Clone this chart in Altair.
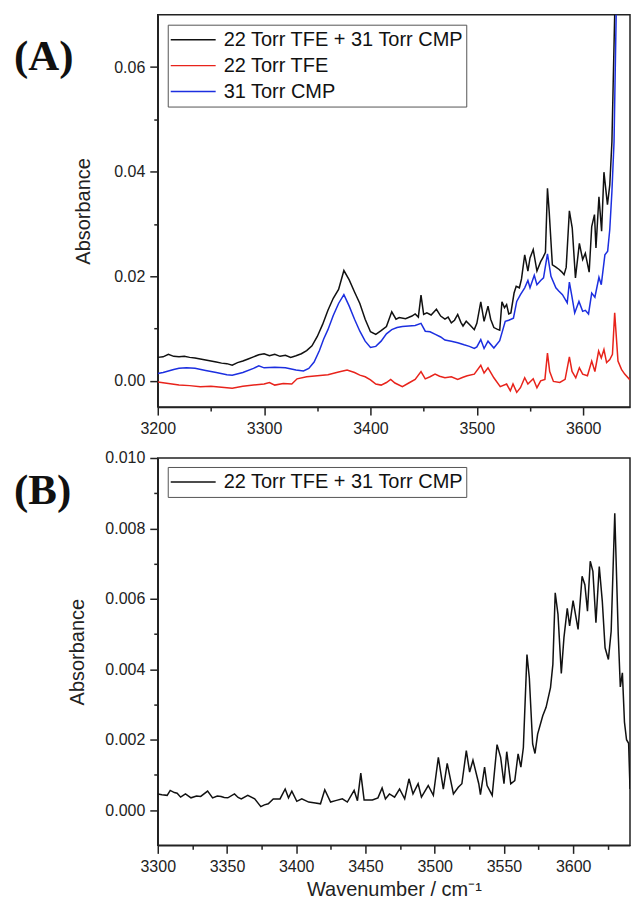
import altair as alt
import pandas as pd

# ---------------- Panel (A) data ----------------
SERIES_A = ["22 Torr TFE + 31 Torr CMP", "22 Torr TFE", "31 Torr CMP"]
COLORS_A = ["#111111", "#e8231b", "#1c2fe0"]

mix_wn = [3200, 3205, 3210, 3215, 3220, 3225, 3230, 3235, 3240, 3245, 3250, 3255, 3260, 3265,
          3270, 3275, 3280, 3285, 3290, 3295, 3300, 3305, 3310, 3315, 3320, 3325, 3330, 3335,
          3340, 3345, 3350, 3355, 3360, 3365, 3370, 3375, 3380, 3385, 3390, 3395, 3400, 3405,
          3410, 3415, 3420, 3424, 3427, 3433, 3439, 3442, 3445, 3447.5, 3450, 3453, 3457, 3462,
          3466, 3470, 3473, 3476, 3479, 3482, 3485, 3487, 3490, 3494, 3497.6, 3500, 3503.7,
          3506.8, 3510.5, 3513, 3516, 3519, 3521.5, 3523.6, 3526, 3528, 3530, 3532, 3535, 3537,
          3540, 3542, 3545, 3548, 3550, 3553, 3556.5, 3560, 3562, 3564.5, 3566.4, 3568, 3571,
          3574, 3577.4, 3580, 3582, 3584, 3587, 3589.7, 3592.7, 3596.4, 3599.5, 3602, 3605.6,
          3608, 3610.6, 3612, 3614.8, 3617.3, 3619.5, 3622.8, 3625, 3627, 3629.6, 3632]
mix_abs = [0.0045, 0.0046, 0.0051, 0.0047, 0.0046, 0.0047, 0.0045, 0.0044, 0.0042, 0.0040,
           0.0038, 0.0036, 0.0034, 0.0033, 0.0030, 0.0035, 0.0038, 0.0042, 0.0046, 0.0050,
           0.0052, 0.0048, 0.0051, 0.0047, 0.0049, 0.0045, 0.0048, 0.0052, 0.0058, 0.0067,
           0.0085, 0.0108, 0.0135, 0.0158, 0.0175, 0.0211, 0.0193, 0.0170, 0.0148, 0.0118,
           0.0094, 0.0089, 0.0096, 0.0104, 0.0132, 0.0118, 0.0121, 0.0119, 0.0124, 0.0128,
           0.0122, 0.0164, 0.0127, 0.0130, 0.0126, 0.0137, 0.0124, 0.0118, 0.0122, 0.0111,
           0.0116, 0.0127, 0.0112, 0.0105, 0.0114, 0.0106, 0.0098, 0.0110, 0.0151, 0.0114,
           0.0143, 0.0118, 0.0102, 0.0099, 0.0097, 0.0151, 0.0140, 0.0146, 0.0128, 0.0130,
           0.0168, 0.0181, 0.0178, 0.0195, 0.0241, 0.0210, 0.0235, 0.0251, 0.0210, 0.0228,
           0.0235, 0.0246, 0.0368, 0.0324, 0.0222, 0.0218, 0.0213, 0.0208, 0.0203, 0.0217,
           0.0325, 0.0292, 0.0197, 0.0263, 0.0232, 0.0244, 0.0208, 0.0295, 0.0318, 0.0254,
           0.0352, 0.0286, 0.0399, 0.0337, 0.0375, 0.0457, 0.0700, 0.0900]

tfe_wn = [3200, 3210, 3220, 3230, 3240, 3250, 3260, 3270, 3280, 3290, 3300, 3305, 3310, 3318,
          3326, 3331, 3340, 3350, 3360, 3370, 3378, 3385, 3390, 3395, 3400, 3405, 3410, 3415,
          3419, 3423, 3430, 3436, 3442, 3447.5, 3451.5, 3456, 3460.7, 3465, 3470, 3476, 3482,
          3487, 3491, 3497.6, 3503.7, 3506.8, 3510.5, 3516, 3522, 3528, 3531.5, 3534, 3537.5,
          3541, 3545, 3548, 3553, 3556.5, 3560, 3564, 3566.4, 3568.5, 3572, 3578, 3583, 3587,
          3589.5, 3593, 3596.4, 3599.5, 3604, 3608, 3611, 3614.5, 3617, 3619.5, 3622, 3625,
          3627.5, 3629.6, 3632.7, 3636, 3639, 3644]
tfe_abs = [-0.0002, -0.0005, -0.0008, -0.0009, -0.0011, -0.0010, -0.0012, -0.0014, -0.0010,
           -0.0008, -0.0006, -0.0003, -0.0008, -0.0005, -0.0006, 0.0004, 0.0008, 0.0010, 0.0012,
           0.0017, 0.0021, 0.0016, 0.0011, 0.0008, 0.0002, -0.0006, -0.0008, -0.0003, 0.0003,
           -0.0004, -0.0011, -0.0004, 0.0003, 0.0018, 0.0004, 0.0008, 0.0013, 0.0009, 0.0006,
           0.0008, 0.0003, 0.0007, 0.0010, 0.0013, 0.0030, 0.0015, 0.0025, 0.0006, -0.0011,
           -0.0006, -0.0019, -0.0006, -0.0022, -0.0013, 0.0006, -0.0006, 0.0004, -0.0013, 0.0000,
           0.0003, 0.0053, 0.0018, -0.0001, -0.0003, 0.0003, 0.0046, 0.0018, 0.0006, 0.0025,
           0.0013, 0.0010, 0.0038, 0.0018, 0.0057, 0.0044, 0.0060, 0.0035, 0.0041, 0.0051,
           0.0130, 0.0038, 0.0022, 0.0013, 0.0002]

cmp_wn = [3200, 3205, 3210, 3215, 3220, 3227, 3235, 3245, 3255, 3265, 3270, 3280, 3290, 3295,
          3300, 3310, 3320, 3330, 3337, 3342, 3347, 3352, 3356, 3360, 3365, 3370, 3375, 3380,
          3385, 3390, 3395, 3400, 3405, 3410, 3415, 3420, 3425, 3430, 3436, 3442, 3447.5,
          3451.5, 3456, 3461, 3466, 3470, 3476, 3482, 3488, 3493, 3497.6, 3500, 3503.7, 3506.8,
          3510.5, 3516, 3521.5, 3526.7, 3530, 3534.4, 3537.5, 3541, 3545, 3548, 3550, 3554,
          3556.5, 3560, 3562.7, 3566.4, 3569.7, 3574.3, 3577, 3580.5, 3585, 3587, 3589.5, 3592,
          3596, 3599.5, 3602, 3605, 3608, 3611, 3614.8, 3617, 3620.4, 3623, 3625, 3627, 3629,
          3631, 3633]
cmp_abs = [0.0014, 0.0016, 0.0019, 0.0022, 0.0024, 0.0025, 0.0024, 0.0020, 0.0016, 0.0012,
           0.0011, 0.0016, 0.0024, 0.0029, 0.0025, 0.0026, 0.0025, 0.0021, 0.0019, 0.0024,
           0.0036, 0.0058, 0.0080, 0.0098, 0.0125, 0.0148, 0.0165, 0.0143, 0.0118, 0.0095,
           0.0076, 0.0064, 0.0066, 0.0076, 0.0090, 0.0098, 0.0102, 0.0104, 0.0105, 0.0106,
           0.0110, 0.0095, 0.0094, 0.0089, 0.0084, 0.0078, 0.0076, 0.0073, 0.0069, 0.0066,
           0.0062, 0.0065, 0.0079, 0.0062, 0.0076, 0.0063, 0.0077, 0.0114, 0.0116, 0.0120,
           0.0152, 0.0165, 0.0178, 0.0192, 0.0178, 0.0202, 0.0184, 0.0192, 0.0197, 0.0243,
           0.0200, 0.0178, 0.0172, 0.0165, 0.0149, 0.0189, 0.0160, 0.0130, 0.0152, 0.0133,
           0.0135, 0.0128, 0.0168, 0.0160, 0.0198, 0.0184, 0.0241, 0.0248, 0.0290, 0.0362,
           0.0457, 0.0700, 0.0900]

# ---------------- Panel (B) data ----------------
SERIES_B = ["22 Torr TFE + 31 Torr CMP"]
b_wn = [3300, 3303, 3306.8, 3309, 3312, 3314, 3316.5, 3320, 3324, 3328, 3331, 3336, 3339.6, 3343,
        3345.7, 3348, 3350.6, 3355.4, 3358, 3360.3, 3365, 3370, 3374.4, 3377, 3379.8, 3383.4,
        3388.3, 3392, 3394.4, 3396.8, 3400.4, 3404, 3409, 3413.8, 3417.5, 3420.6, 3424.8,
        3428.4, 3433.3, 3436.9, 3441.8, 3444.2, 3446.6, 3449, 3455, 3459, 3462, 3464.4, 3467.3,
        3471, 3474.6, 3478.3, 3481.4, 3484.3, 3488, 3490.4, 3495.3, 3499, 3502.6, 3506.2, 3509,
        3513.5, 3517, 3519.6, 3522.8, 3525.2, 3527.6, 3531.8, 3533, 3536, 3537.8, 3541.5, 3545,
        3547.6, 3550, 3552, 3554.9, 3557.8, 3560.2, 3562.2, 3564, 3566.6, 3568.3, 3570.7, 3572.4,
        3574.3, 3578, 3580.4, 3583.6, 3585.3, 3587, 3589, 3591.4, 3593.3, 3595.7, 3597.4, 3599.9,
        3603.5, 3606.4, 3608.4, 3610.3, 3612.3, 3614.2, 3616.4, 3618.8, 3621, 3623, 3625.4,
        3627.4, 3630, 3632.5, 3634, 3635.5, 3637, 3638.5, 3640, 3641]
b_abs = [0.00046, 0.00044, 0.00042, 0.00056, 0.00050, 0.00048, 0.00037, 0.00046, 0.00035,
         0.00040, 0.00039, 0.00054, 0.00035, 0.00040, 0.00039, 0.00036, 0.00035, 0.00046,
         0.00036, 0.00032, 0.00042, 0.00032, 0.00010, 0.00015, 0.00018, 0.00032, 0.00032,
         0.00060, 0.00035, 0.00054, 0.00025, 0.00032, 0.00023, 0.00020, 0.00018, 0.00058,
         0.00023, 0.00027, 0.00032, 0.00023, 0.00056, 0.00027, 0.00105, 0.00029, 0.00029,
         0.00035, 0.00063, 0.00032, 0.00046, 0.00037, 0.00060, 0.00032, 0.00089, 0.00046,
         0.00075, 0.00037, 0.00070, 0.00042, 0.00150, 0.00060, 0.00133, 0.00046, 0.00065,
         0.00075, 0.00169, 0.00108, 0.00142, 0.00075, 0.00044, 0.00122, 0.00070, 0.00042,
         0.00186, 0.00150, 0.00075, 0.00166, 0.00075, 0.00084, 0.00160, 0.00122, 0.00178,
         0.00442, 0.00376, 0.00188, 0.00161, 0.00216, 0.00268, 0.00292, 0.00348, 0.00414,
         0.00617, 0.00556, 0.00388, 0.00490, 0.00573, 0.00523, 0.00595, 0.00513, 0.00664,
         0.00640, 0.00565, 0.00707, 0.00678, 0.00532, 0.00692, 0.00593, 0.00461, 0.00428,
         0.00508, 0.00843, 0.00500, 0.00350, 0.00390, 0.00250, 0.00200, 0.00190, 0.00060]

# tick values
yA_ticks = [0.0, 0.01, 0.02, 0.03, 0.04, 0.05, 0.06]
xA_ticks = [3200, 3250, 3300, 3350, 3400, 3450, 3500, 3550, 3600]
yB_ticks = [0.0, 0.001, 0.002, 0.003, 0.004, 0.005, 0.006, 0.007, 0.008, 0.009, 0.010]
xB_ticks = [3300, 3325, 3350, 3375, 3400, 3425, 3450, 3475, 3500, 3525, 3550, 3575, 3600, 3625]
PANEL_TAGS = ["(A)", "(B)"]

FONT = "Liberation Sans, Arial, sans-serif"
SERIF = "Liberation Serif, Times New Roman, serif"

dfA = pd.concat([
    pd.DataFrame({"wn": mix_wn, "absorb": mix_abs, "series": SERIES_A[0], "k": 0}),
    pd.DataFrame({"wn": tfe_wn, "absorb": tfe_abs, "series": SERIES_A[1], "k": 1}),
    pd.DataFrame({"wn": cmp_wn, "absorb": cmp_abs, "series": SERIES_A[2], "k": 2}),
], ignore_index=True)
dfB = pd.DataFrame({"wn": b_wn, "absorb": b_abs, "series": SERIES_B[0]})


def legend(y):
    return alt.Legend(
        orient="none", legendX=10, legendY=y, title=None,
        symbolType="stroke", symbolSize=2025, symbolStrokeWidth=1.5,
        clipHeight=26, labelFontSize=20, labelFont=FONT, labelColor="#111",
        labelOffset=7, padding=2, strokeColor="#555", fillColor="white",
        rowPadding=0, labelLimit=500,
    )


def tag(text, top):
    return alt.Chart(pd.DataFrame({"t": [text]})).mark_text(
        font=SERIF, fontWeight="bold", fontSize=43, align="left", baseline="top",
        color="#111",
    ).encode(text="t:N", x=alt.value(-144), y=alt.value(top))


def tick_size(major_test):
    # minor ticks short, major ticks long
    return {"condition": {"test": f"!({major_test})", "value": 4}, "value": 8}


tA_y = "abs(datum.value*50 - round(datum.value*50)) < 0.01"
tA_x = "datum.value % 100 == 0"
tB_y = "abs(datum.value*500 - round(datum.value*500)) < 0.01"
tB_x = "datum.value % 50 == 0"

W = 473

linesA = alt.Chart(dfA).mark_line(strokeWidth=1.5, clip=True).encode(
    x=alt.X("wn:Q", scale=alt.Scale(domain=[3200, 3644], nice=False, zero=False),
            axis=alt.Axis(values=xA_ticks, title=None,
                          labelExpr=f"{tA_x} ? format(datum.value, 'd') : ''",
                          tickSize=tick_size(tA_x))),
    y=alt.Y("absorb:Q", scale=alt.Scale(domain=[-0.005, 0.07], nice=False, zero=False),
            axis=alt.Axis(values=yA_ticks, title="Absorbance", titlePadding=20,
                          labelExpr=f"{tA_y} ? format(datum.value, '.2f') : ''",
                          tickSize=tick_size(tA_y))),
    color=alt.Color("series:N", scale=alt.Scale(domain=SERIES_A, range=COLORS_A),
                    legend=legend(10)),
    detail="k:N",
)
panelA = alt.layer(linesA, tag(PANEL_TAGS[0], 21)).properties(width=W, height=393)

linesB = alt.Chart(dfB).mark_line(strokeWidth=1.5, clip=True).encode(
    x=alt.X("wn:Q", scale=alt.Scale(domain=[3300, 3641], nice=False, zero=False),
            axis=alt.Axis(values=xB_ticks, title="Wavenumber / cm⁻¹", titlePadding=5,
                          labelExpr=f"{tB_x} ? format(datum.value, 'd') : ''",
                          tickSize=tick_size(tB_x))),
    y=alt.Y("absorb:Q", scale=alt.Scale(domain=[-0.001, 0.010], nice=False, zero=False),
            axis=alt.Axis(values=yB_ticks, title="Absorbance", titlePadding=17,
                          labelExpr=f"{tB_y} ? format(datum.value, '.3f') : ''",
                          tickSize=tick_size(tB_y))),
    color=alt.Color("series:N", scale=alt.Scale(domain=SERIES_B, range=["#111111"]),
                    legend=legend(9)),
)
panelB = alt.layer(linesB, tag(PANEL_TAGS[1], 12)).properties(width=W, height=388)

chart = alt.vconcat(panelA, panelB, spacing=51, bounds="flush").resolve_scale(
    color="independent"
).resolve_legend(color="independent").properties(
    padding={"left": 5, "top": 5, "right": 0, "bottom": 0},
    background="white",
).configure(font=FONT).configure_view(
    stroke="#222", strokeWidth=1.5
).configure_axis(
    domainColor="#222", domainWidth=1.5, tickColor="#222", tickWidth=1.5,
    labelFont=FONT, labelFontSize=16, labelColor="#222", labelPadding=5,
    titleFont=FONT, titleFontSize=20, titleFontWeight="normal", titleColor="#222",
    grid=False, labelFlush=False, labelOverlap=False,
)

chart.save("out.html", embed_options={"renderer": "svg", "actions": False})
